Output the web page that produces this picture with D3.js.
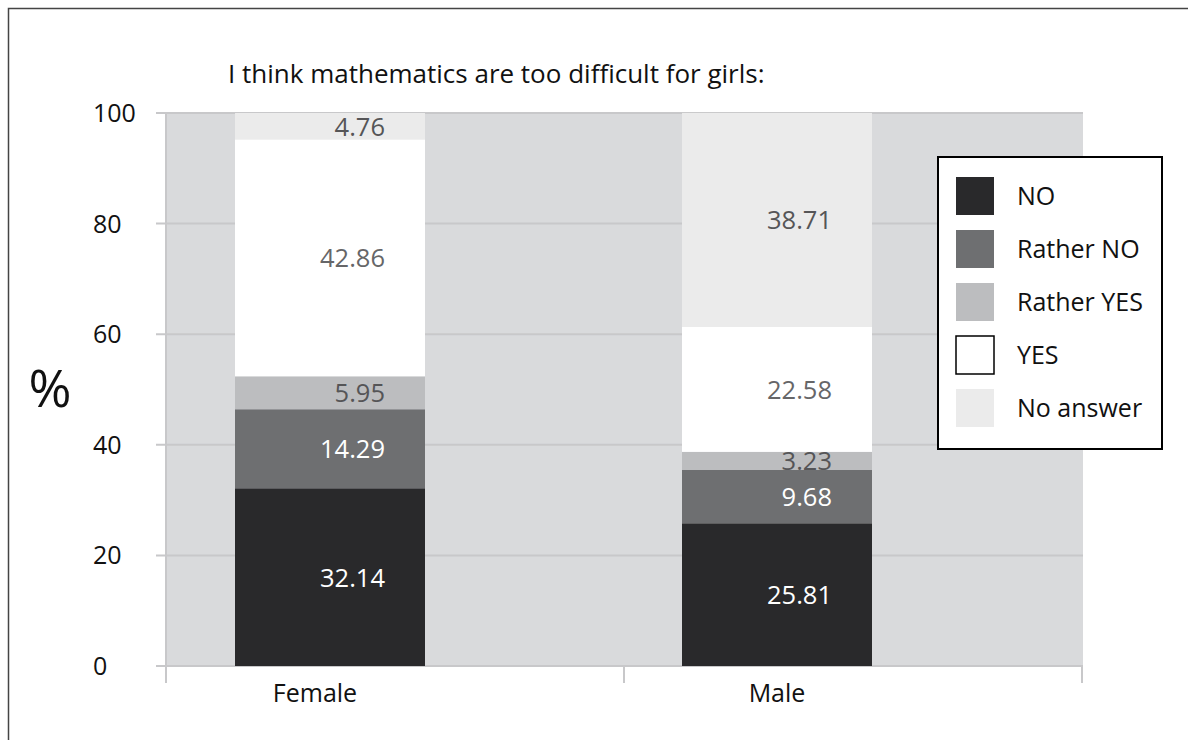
<!DOCTYPE html>
<html><head><meta charset="utf-8">
<script src="https://cdn.jsdelivr.net/npm/d3@7"></script>
<style>
body{margin:0;background:#fff;}
text{font-family:"Open Sans","Noto Sans",sans-serif;}
</style></head>
<body><svg id="c" width="1188" height="740"></svg>
<script>
const categories = ["Female", "Male"];
const seriesNames = ["NO", "Rather NO", "Rather YES", "YES", "No answer"];
const valuesNO = [32.14, 25.81];
const valuesRatherNO = [14.29, 9.68];
const valuesRatherYES = [5.95, 3.23];
const valuesYES = [42.86, 22.58];
const valuesNoAnswer = [4.76, 38.71];
const yTicks = [0, 20, 40, 60, 80, 100];
const title = "I think mathematics are too difficult for girls:";
const yLabel = "%";

const seriesValues = [valuesNO, valuesRatherNO, valuesRatherYES, valuesYES, valuesNoAnswer];
const fills = ["#29292b", "#6e6f71", "#bcbdbf", "#ffffff", "#ebebeb"];
const labelColors = ["#ffffff", "#ffffff", "#555557", "#666668", "#555557"];

const svg = d3.select("#c");
svg.append("rect").attr("x", 8.5).attr("y", 8.5).attr("width", 1400).attr("height", 1000)
  .attr("fill", "none").attr("stroke", "#444").attr("stroke-width", 1.5);

const L = 166, R = 1082, T = 113, B = 666;
const y = d3.scaleLinear().domain([0, 100]).range([B, T]);
const xBand = d3.scaleBand().domain(categories).range([L, R]).padding(0);
const barCenter = d3.scalePoint().domain(categories).range([330, 777]);
const labelCenter = d3.scalePoint().domain(categories).range([315, 777]);
const barW = 190;

svg.append("rect").attr("x", L - 1).attr("y", T).attr("width", R - L + 2).attr("height", B - T).attr("fill", "#d9dadc");

const grid = svg.append("g");
yTicks.forEach(t => {
  grid.append("line").attr("x1", 156).attr("x2", R + 1).attr("y1", y(t)).attr("y2", y(t))
    .attr("stroke", "#c8c8ca").attr("stroke-width", 2);
});
svg.append("line").attr("x1", L).attr("x2", L).attr("y1", T).attr("y2", B + 17)
  .attr("stroke", "#c8c8ca").attr("stroke-width", 2);
const bounds = categories.map(c => xBand(c)).concat([xBand(categories[categories.length - 1]) + xBand.bandwidth()]);
bounds.forEach(bx => {
  svg.append("line").attr("x1", bx).attr("x2", bx).attr("y1", B).attr("y2", B + 17)
    .attr("stroke", "#c8c8ca").attr("stroke-width", 2);
});

svg.append("g").selectAll("text").data(yTicks).join("text")
  .attr("x", 93).attr("y", d => y(d) + 9).attr("font-size", 25).attr("fill", "#111")
  .text(d => d);

const rows = categories.map((c, i) => {
  const o = { cat: c };
  seriesNames.forEach((s, k) => o[s] = seriesValues[k][i]);
  return o;
});
const stack = d3.stack().keys(seriesNames)(rows);
stack.forEach((layer, k) => {
  svg.append("g").selectAll("rect").data(layer).join("rect")
    .attr("x", d => barCenter(d.data.cat) - barW / 2)
    .attr("width", barW)
    .attr("y", d => y(d[1]))
    .attr("height", d => y(d[0]) - y(d[1]))
    .attr("fill", fills[k]);
});
stack.forEach((layer, k) => {
  svg.append("g").selectAll("text").data(layer).join("text")
    .attr("x", d => barCenter(d.data.cat) + barW / 2 - 40)
    .attr("y", d => (y(d[0]) + y(d[1])) / 2 + 9.5)
    .attr("text-anchor", "end").attr("font-size", 25.5).attr("fill", labelColors[k])
    .text(d => d.data[seriesNames[k]].toFixed(2));
});

svg.append("g").selectAll("text").data(categories).join("text")
  .attr("x", d => labelCenter(d)).attr("y", 702).attr("text-anchor", "middle")
  .attr("font-size", 25).attr("fill", "#111").text(d => d);

svg.append("text").attr("x", 228).attr("y", 83).attr("font-size", 26).attr("fill", "#111").text(title);
svg.append("text").attr("x", 50).attr("y", 407).attr("text-anchor", "middle").attr("font-size", 52)
  .attr("fill", "#111").text(yLabel);

const lg = svg.append("g");
lg.append("rect").attr("x", 938).attr("y", 157).attr("width", 224).attr("height", 292)
  .attr("fill", "#fff").attr("stroke", "#000").attr("stroke-width", 2);
seriesNames.forEach((s, k) => {
  const yy = 177 + k * 53;
  lg.append("rect").attr("x", 956).attr("y", yy).attr("width", 38).attr("height", 38)
    .attr("fill", fills[k])
    .attr("stroke", fills[k] === "#ffffff" ? "#000" : "none").attr("stroke-width", 1.5);
  lg.append("text").attr("x", 1017).attr("y", yy + 28).attr("font-size", 25).attr("fill", "#111").text(s);
});
</script></body></html>
